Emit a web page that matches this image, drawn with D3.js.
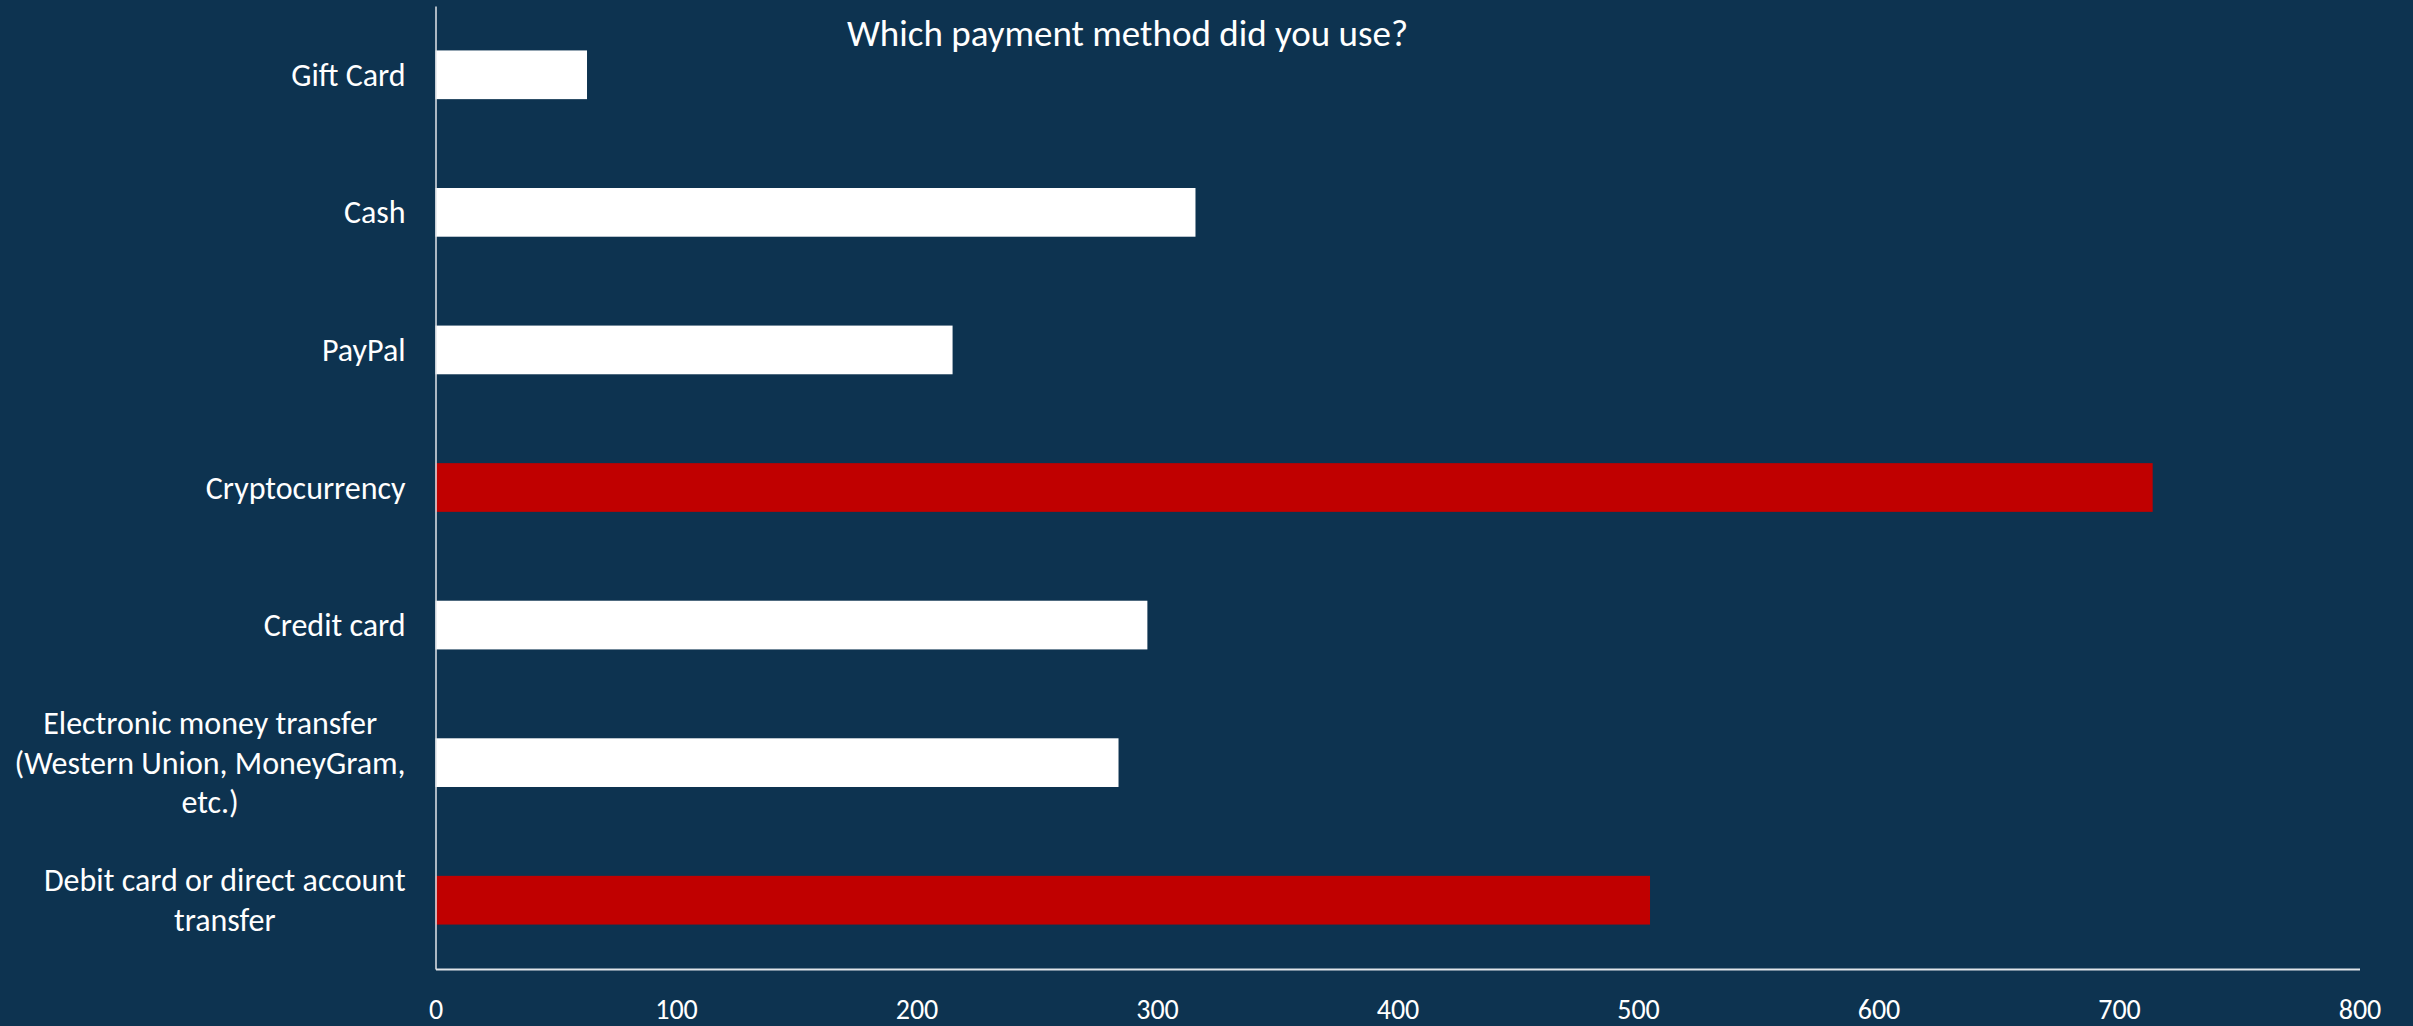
<!DOCTYPE html>
<html>
<head>
<meta charset="utf-8">
<script src="https://cdn.jsdelivr.net/npm/d3@7"></script>
<style>
  html, body { margin: 0; padding: 0; background: #0D3350; overflow: hidden; }
  svg { display: block; }
  text { font-family: Carlito, Calibri, Lato, "Open Sans", sans-serif; fill: #FFFFFF; }
</style>
</head>
<body>
<svg id="chart" width="2413" height="1026"></svg>
<script>
// Data (top to bottom)
const categories = [
  "Gift Card",
  "Cash",
  "PayPal",
  "Cryptocurrency",
  "Credit card",
  "Electronic money transfer (Western Union, MoneyGram, etc.)",
  "Debit card or direct account transfer"
];
const labelLines = [
  ["Gift Card"],
  ["Cash"],
  ["PayPal"],
  ["Cryptocurrency"],
  ["Credit card"],
  ["Electronic money transfer", "(Western Union, MoneyGram,", "etc.)"],
  ["Debit card or direct account", "transfer"]
];
const values = [63, 316, 215, 714, 296, 284, 505];
const highlighted = ["Cryptocurrency", "Debit card or direct account transfer"];
const xTicks = [0, 100, 200, 300, 400, 500, 600, 700, 800];
const title = "Which payment method did you use?";

const W = 2413, H = 1026;
const plot = { left: 435.5, right: 2359.5, top: 6, bottom: 969 };

const svg = d3.select("#chart");
svg.append("rect").attr("width", W).attr("height", H).attr("fill", "#0D3350");

const x = d3.scaleLinear().domain([0, 800]).range([plot.left, plot.right]);
const y = d3.scaleBand().domain(categories).range([plot.top, plot.bottom])
  .paddingInner(0.646).paddingOuter(0.323);

// Bars
svg.append("g").selectAll("rect").data(categories).join("rect")
  .attr("x", x(0))
  .attr("y", d => y(d))
  .attr("width", (d, i) => x(values[i]) - x(0))
  .attr("height", y.bandwidth())
  .attr("fill", d => highlighted.includes(d) ? "#C00000" : "#FFFFFF");

// X axis
const xAxis = svg.append("g")
  .attr("transform", `translate(0,${plot.bottom})`)
  .call(d3.axisBottom(x).tickValues(xTicks).tickSize(0).tickPadding(30).tickFormat(d3.format("d")));
xAxis.select(".domain").attr("stroke", "#E0E4E8").attr("stroke-width", 2);
xAxis.selectAll("text").attr("font-size", 28).style("fill", "#FFFFFF")
  .attr("font-family", "Carlito, Calibri, Lato, sans-serif");

// Y axis line
const yAxis = svg.append("g")
  .attr("transform", `translate(${plot.left},0)`)
  .call(d3.axisLeft(y).tickSize(0).tickFormat(""));
yAxis.select(".domain").attr("stroke", "#E0E4E8").attr("stroke-width", 1.5);

// Category labels (right-aligned block, centered lines)
const labelRight = 405.6;
const lineH = 39.5;
const fontSize = 32;
const lg = svg.append("g");
categories.forEach((c, i) => {
  const lines = labelLines[i];
  const cy = y(c) + y.bandwidth() / 2;
  const t = lg.append("text")
    .attr("font-size", fontSize)
    .attr("dominant-baseline", "central")
    .attr("text-anchor", "middle");
  lines.forEach((ln, j) => {
    t.append("tspan").text(ln)
      .attr("y", cy + (j - (lines.length - 1) / 2) * lineH);
  });
  let maxW = 0;
  t.selectAll("tspan").each(function() { maxW = Math.max(maxW, this.getComputedTextLength()); });
  const cx = labelRight - maxW / 2;
  t.selectAll("tspan").attr("x", cx);
});

// Title
svg.append("text")
  .attr("x", 1127.5).attr("y", 46)
  .attr("text-anchor", "middle")
  .attr("font-size", 37)
  .text(title);
</script>
</body>
</html>
